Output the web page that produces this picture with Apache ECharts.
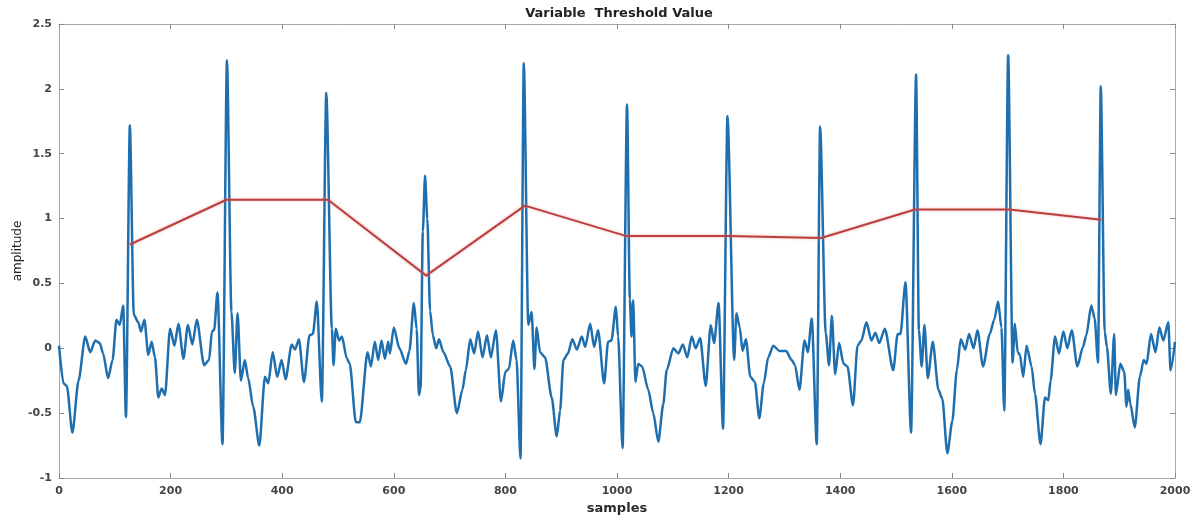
<!DOCTYPE html>
<html>
<head>
<meta charset="utf-8">
<title>Variable Threshold Value</title>
<script src="https://cdn.jsdelivr.net/npm/echarts@6/dist/echarts.min.js"></script>
<style>
  html, body { margin: 0; padding: 0; background: #ffffff; }
  #chart { width: 1194px; height: 515px; }
</style>
</head>
<body>
<div id="chart"></div>
<script>
// ECG trace: [sample index, amplitude]
const ecgSignal = [
  [0,0.02],[8,-0.27],[14,-0.29],[24,-0.65],[35,-0.25],[47,0.09],[56,-0.03],[65,0.06],[73,0.04],[79,-0.04],
  [88,-0.23],[96,-0.09],[103,0.22],[109,0.18],[115,0.33],[120,-0.53],[127,1.72],[134,0.26],[142,0.2],[147,0.13],
  [153,0.22],[160,-0.05],[166,0.05],[172,-0.07],[178,-0.38],[184,-0.31],[190,-0.36],[199,0.15],[207,0.02],[214,0.19],
  [223,-0.08],[231,0.18],[239,0.03],[247,0.22],[260,-0.13],[269,-0.09],[274,0.13],[278,0.14],[284,0.43],[293,-0.74],
  [301,2.22],[309,0.28],[315,-0.19],[320,0.27],[326,-0.25],[333,-0.09],[339,-0.23],[348,-0.45],[359,-0.75],[369,-0.22],
  [375,-0.27],[383,-0.03],[391,-0.22],[399,-0.09],[406,-0.24],[417,0.03],[423,-0.01],[430,0.07],[439,-0.26],[449,0.1],
  [455,0.11],[462,0.36],[471,-0.41],[479,1.97],[489,0.15],[492,-0.13],[496,0.15],[502,0.06],[507,0.09],[516,-0.08],
  [521,-0.12],[532,-0.57],[539,-0.57],[553,-0.03],[559,-0.14],[566,0.05],[572,-0.09],[578,0.06],[584,-0.08],[590,0.05],
  [593,-0.04],[600,0.16],[610,0.0],[622,-0.12],[628,-0.02],[636,0.35],[641,0.15],[645,-0.36],[648,-0.31],[652,0.9],
  [656,1.33],[660,1.0],[665,0.29],[670,0.1],[676,0.0],[681,0.07],[689,-0.03],[701,-0.14],[713,-0.5],[723,-0.32],
  [729,-0.17],[737,0.07],[744,-0.04],[751,0.13],[759,-0.07],[767,0.1],[774,-0.07],[783,0.14],[792,-0.41],[800,-0.18],
  [806,-0.16],[814,0.06],[820,-0.09],[827,-0.85],[833,2.2],[841,0.18],[847,0.28],[852,-0.16],[856,0.16],[862,-0.03],
  [871,-0.07],[883,-0.38],[892,-0.68],[898,-0.48],[904,-0.09],[912,-0.04],[920,0.07],[928,-0.01],[937,0.09],[943,0.01],
  [952,0.19],[959,0.01],[966,0.14],[977,-0.27],[984,0.05],[990,0.06],[998,0.32],[1002,0.09],[1010,-0.77],[1018,1.88],
  [1023,0.38],[1026,0.09],[1029,0.37],[1033,-0.26],[1038,-0.12],[1045,-0.14],[1056,-0.32],[1065,-0.5],[1074,-0.72],[1083,-0.43],
  [1089,-0.17],[1101,0.0],[1110,-0.04],[1118,0.03],[1126,-0.07],[1134,0.09],[1141,0.0],[1149,0.08],[1159,-0.29],[1168,0.18],
  [1174,0.04],[1182,0.35],[1190,-0.62],[1198,1.79],[1210,-0.09],[1214,0.27],[1220,0.16],[1225,-0.02],[1231,0.07],[1239,-0.22],
  [1247,-0.26],[1255,-0.54],[1263,-0.27],[1271,-0.07],[1280,0.02],[1291,-0.02],[1303,-0.02],[1313,-0.09],[1319,-0.13],[1327,-0.32],
  [1336,0.06],[1342,-0.03],[1349,0.23],[1358,-0.74],[1364,1.71],[1374,0.12],[1380,-0.13],[1385,0.25],[1391,-0.2],[1398,0.04],
  [1406,-0.12],[1413,-0.14],[1423,-0.44],[1431,0.02],[1438,0.06],[1447,0.2],[1456,0.06],[1463,0.12],[1470,0.04],[1480,0.15],
  [1495,-0.17],[1503,0.11],[1508,0.11],[1517,0.51],[1527,-0.65],[1536,2.11],[1541,0.14],[1546,-0.14],[1551,0.18],[1557,-0.23],
  [1566,0.05],[1576,-0.32],[1583,-0.39],[1592,-0.81],[1601,-0.56],[1609,-0.17],[1616,0.07],[1624,-0.01],[1631,0.11],[1639,0.0],
  [1646,0.14],[1656,-0.14],[1668,0.11],[1676,0.22],[1683,0.36],[1689,0.16],[1694,-0.48],[1701,2.26],[1709,-0.11],[1713,0.19],
  [1718,-0.03],[1722,-0.05],[1728,-0.22],[1734,0.02],[1743,-0.14],[1749,-0.35],[1759,-0.74],[1767,-0.38],[1773,-0.4],[1777,-0.25],
  [1785,0.09],[1792,-0.04],[1800,0.13],[1807,0.0],[1815,0.14],[1825,-0.14],[1835,0.01],[1841,0.1],[1850,0.33],[1856,0.23],
  [1862,-0.11],[1867,2.02],[1874,0.13],[1878,0.01],[1885,-0.35],[1891,0.11],[1894,-0.36],[1902,-0.12],[1909,-0.18],[1913,-0.45],
  [1916,-0.32],[1920,-0.43],[1928,-0.61],[1937,-0.22],[1944,-0.09],[1949,-0.12],[1957,0.11],[1965,-0.03],[1972,0.16],[1979,0.06],
  [1988,0.2],[1992,-0.17],[2000,0.05]
];

// Adaptive threshold, one value per detected R peak
const peakSamples = [127, 300, 482, 658, 835, 1017, 1199, 1366, 1534, 1703, 1868];
const thresholdValues = [0.80, 1.145, 1.145, 0.56, 1.10, 0.865, 0.865, 0.85, 1.07, 1.07, 0.99];

const thresholdLine = peakSamples.map((s, i) => [s, thresholdValues[i]]);

const FONT = 'DejaVu Sans, Verdana, sans-serif';
const labelFont = { fontFamily: FONT, fontSize: 11, fontWeight: 'bold', color: '#444444' };
const frameColor = '#a8a8a8';
const tickColor = '#8a8a8a';
const plainNumber = v => String(v);

function xAxisBase(pos, showLabels) {
  return {
    type: 'value', position: pos, min: 0, max: 2000, interval: 200,
    axisLine: { show: true, onZero: false, lineStyle: { color: frameColor, width: 1 } },
    axisTick: { show: true, inside: true, length: 5, lineStyle: { color: tickColor } },
    axisLabel: Object.assign({ show: showLabels, margin: 8, formatter: plainNumber }, labelFont),
    splitLine: { show: false }
  };
}
function yAxisBase(pos, showLabels) {
  return {
    type: 'value', position: pos, min: -1, max: 2.5, interval: 0.5,
    axisLine: { show: true, onZero: false, lineStyle: { color: frameColor, width: 1 } },
    axisTick: { show: true, inside: true, length: 5, lineStyle: { color: tickColor } },
    axisLabel: Object.assign({ show: showLabels, margin: 7, formatter: plainNumber }, labelFont),
    splitLine: { show: false }
  };
}

const bottomX = Object.assign(xAxisBase('bottom', true), {
  name: 'samples', nameLocation: 'middle', nameGap: 24, nameMoveOverlap: false,
  nameTextStyle: { fontFamily: FONT, fontSize: 13, fontWeight: 'bold', color: '#2a2a2a' }
});
const leftY = Object.assign(yAxisBase('left', true), {
  name: 'amplitude', nameLocation: 'middle', nameGap: 35, nameRotate: 90, nameMoveOverlap: false,
  nameTextStyle: { fontFamily: FONT, fontSize: 12, fontWeight: 'normal', color: '#222222' }
});

const chart = echarts.init(document.getElementById('chart'), null, { renderer: 'canvas' });
chart.setOption({
  animation: false,
  backgroundColor: '#ffffff',
  title: {
    text: 'Variable  Threshold Value',
    left: 614, top: 2, textAlign: 'center',
    textStyle: { fontFamily: FONT, fontSize: 13, fontWeight: 'bold', color: '#222222' }
  },
  grid: { left: 59, right: 19, top: 24, bottom: 37, containLabel: false, outerBoundsMode: 'none' },
  xAxis: [bottomX, xAxisBase('top', false)],
  yAxis: [leftY, yAxisBase('right', false)],
  series: [
    {
      name: 'ECG', type: 'line', data: ecgSignal, xAxisIndex: 0, yAxisIndex: 0,
      showSymbol: false, smooth: 0.25, smoothMonotone: 'x',
      lineStyle: { color: '#1f6fae', width: 2.5 },
      z: 2
    },
    {
      name: 'Threshold', type: 'line', data: thresholdLine, xAxisIndex: 0, yAxisIndex: 0,
      showSymbol: false,
      lineStyle: { color: '#b8413f', width: 2, shadowColor: 'rgba(230,130,130,0.6)', shadowBlur: 3 },
      z: 3
    }
  ]
});
</script>
</body>
</html>
